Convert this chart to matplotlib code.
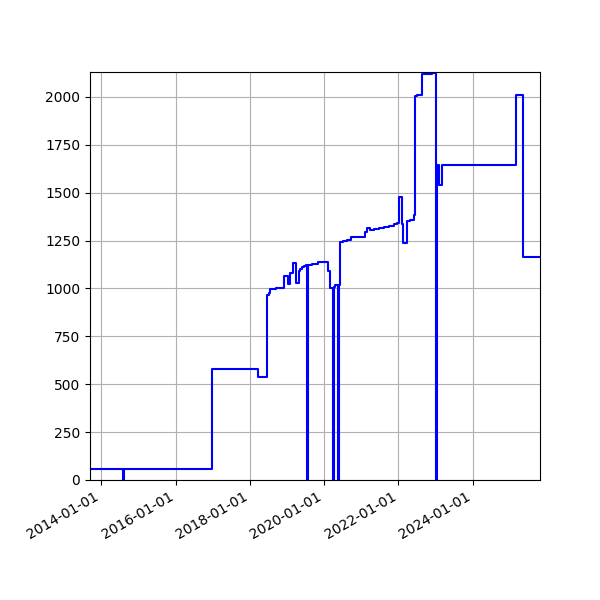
import matplotlib
matplotlib.use("Agg")
import matplotlib.pyplot as plt
import matplotlib.dates as mdates
import pandas as pd

dates = [
    "2013-09-12", "2014-08-05", "2014-08-12", "2015-06-29", "2016-12-26",
    "2018-03-22", "2018-06-19", "2018-07-05", "2018-07-22", "2018-09-19",
    "2018-12-03", "2019-01-11", "2019-01-28", "2019-03-01", "2019-03-27",
    "2019-04-29", "2019-05-11", "2019-05-25", "2019-06-14", "2019-07-04",
    "2019-07-18", "2019-07-25", "2019-09-09", "2019-11-07", "2020-02-07",
    "2020-03-04", "2020-04-02", "2020-04-09", "2020-04-22", "2020-05-19",
    "2020-05-26", "2020-06-08", "2020-07-03", "2020-08-12", "2020-09-24",
    "2021-02-09", "2021-02-24", "2021-03-30", "2021-05-11", "2021-06-29",
    "2021-08-17", "2021-10-05", "2021-11-23", "2021-12-23", "2022-01-09",
    "2022-02-03", "2022-02-20", "2022-03-28", "2022-04-29", "2022-06-08",
    "2022-06-18", "2022-06-30", "2022-08-22", "2022-10-23", "2022-12-01",
    "2023-01-07", "2023-01-15", "2023-02-08", "2023-03-05", "2025-03-03",
    "2025-05-07", "2025-10-25",
]
values = [
    55, 0, 55, 57, 578,
    538, 966, 975, 996, 1003,
    1067, 1023, 1083, 1135, 1030,
    1090, 1103, 1112, 1117, 1120,
    0, 1121, 1126, 1138, 1093,
    1001, 0, 1010, 1018, 0,
    1018, 1243, 1248, 1253, 1267,
    1297, 1314, 1305, 1310, 1318,
    1323, 1328, 1336, 1342, 1476,
    1335, 1236, 1354, 1358, 1384,
    2003, 2008, 2122, 2118, 2124,
    0, 1645, 1540, 1645, 2008,
    1166, 1166,
]

x = pd.to_datetime(dates)

fig, ax = plt.subplots(figsize=(6, 6), dpi=100)
fig.subplots_adjust(left=0.15, right=0.9, top=0.88, bottom=0.2)
ax.plot(x, values, color="blue", drawstyle="steps-post", linewidth=1.5)
ax.set_xlim(x[0], x[-1])
ax.set_ylim(0, 2130)
ax.xaxis.set_major_locator(mdates.YearLocator(2))
ax.xaxis.set_major_formatter(mdates.DateFormatter("%Y-%m-%d"))
ax.grid(True)
ax.set_axisbelow(True)
for lab in ax.get_xticklabels():
    lab.set_rotation(30)
    lab.set_ha("right")
fig.savefig("out.png", dpi=100)
